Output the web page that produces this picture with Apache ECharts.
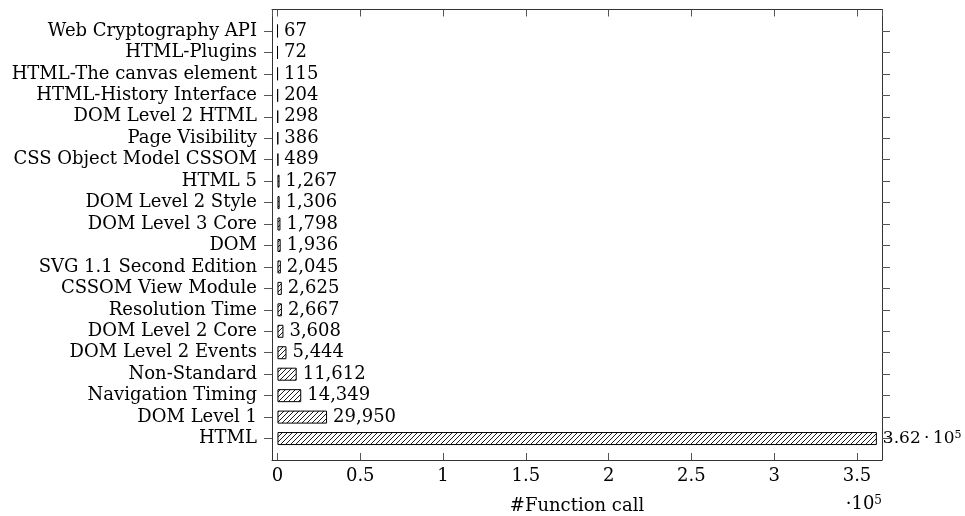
<!DOCTYPE html>
<html>
<head>
<meta charset="utf-8">
<script src="https://cdn.jsdelivr.net/npm/echarts@6/dist/echarts.min.js"></script>
<style>
html,body{margin:0;padding:0;background:#fff;}
#c{width:965px;height:516px;}
</style>
</head>
<body>
<div id="c"></div>
<script>
const categories = [
  'Web Cryptography API', 'HTML-Plugins', 'HTML-The canvas element', 'HTML-History Interface',
  'DOM Level 2 HTML', 'Page Visibility', 'CSS Object Model CSSOM', 'HTML 5',
  'DOM Level 2 Style', 'DOM Level 3 Core', 'DOM', 'SVG 1.1 Second Edition',
  'CSSOM View Module', 'Resolution Time', 'DOM Level 2 Core', 'DOM Level 2 Events',
  'Non-Standard', 'Navigation Timing', 'DOM Level 1', 'HTML'
];
const functionCalls = [
  67, 72, 115, 204, 298, 386, 489, 1267, 1306, 1798, 1936, 2045,
  2625, 2667, 3608, 5444, 11612, 14349, 29950, 362000
];
const xTickStep = 50000;
const xMin = -3300;
const xMax = 365100;

const FONT = 'DejaVu Serif';
const FS = 18;

// hatch pattern (north east lines)
const pc = document.createElement('canvas');
pc.width = 5; pc.height = 5;
const g = pc.getContext('2d');
g.fillStyle = '#fff'; g.fillRect(0, 0, 5, 5);
g.strokeStyle = '#000'; g.lineWidth = 0.9;
g.beginPath();
g.moveTo(0, 5); g.lineTo(5, 0);
g.moveTo(-1, 1); g.lineTo(1, -1);
g.moveTo(4, 6); g.lineTo(6, 4);
g.stroke();

const axisCats = [''].concat(categories, ['']);
const seriesData = [null].concat(functionCalls, [null]);

const chart = echarts.init(document.getElementById('c'), null, {renderer: 'canvas'});
const frameLine = {show: true, onZero: false, lineStyle: {color: '#333', width: 1}};
const tickStyle = {color: '#555', width: 1};

chart.setOption({
  animation: false,
  backgroundColor: '#fff',
  textStyle: {fontFamily: FONT},
  grid: {left: 272, right: 83, top: 9.5, bottom: 56, containLabel: false, outerBoundsMode: 'none'},
  xAxis: [{
    type: 'value', position: 'bottom', min: xMin, max: xMax,
    minInterval: xTickStep, maxInterval: xTickStep,
    axisLine: frameLine,
    axisTick: {show: true, inside: true, length: 7, lineStyle: tickStyle},
    splitLine: {show: false},
    axisLabel: {
      show: true, margin: 7, color: '#000', fontFamily: FONT, fontSize: FS,
      showMinLabel: false, showMaxLabel: false,
      formatter: v => (v < 0 || v > 360000) ? '' : String(v / 1e5)
    },
    name: '#Function call', nameLocation: 'middle', nameGap: 37,
    nameTextStyle: {color: '#000', fontFamily: FONT, fontSize: FS}
  }, {
    type: 'value', position: 'top', min: xMin, max: xMax,
    minInterval: xTickStep, maxInterval: xTickStep,
    axisLine: frameLine,
    axisTick: {show: true, inside: true, length: 7, lineStyle: tickStyle},
    splitLine: {show: false},
    axisLabel: {show: false}
  }],
  yAxis: [{
    type: 'category', position: 'left', inverse: true, data: axisCats, boundaryGap: false,
    axisLine: frameLine,
    axisTick: {show: true, inside: false, length: 8, lineStyle: tickStyle,
      interval: (i, v) => v !== ''},
    splitLine: {show: false},
    axisLabel: {show: true, interval: 0, margin: 15, color: '#000', fontFamily: FONT, fontSize: FS}
  }, {
    type: 'category', position: 'right', inverse: true, data: axisCats, boundaryGap: false,
    axisLine: frameLine,
    axisTick: {show: true, inside: false, length: 8, lineStyle: tickStyle,
      interval: (i, v) => v !== ''},
    splitLine: {show: false},
    axisLabel: {show: false}
  }],
  graphic: [{
    type: 'text', right: 83, top: 495,
    style: {
      text: '{n|·10}{s|5}',
      rich: {
        n: {fontFamily: FONT, fontSize: FS, fill: '#000', verticalAlign: 'bottom'},
        s: {fontFamily: FONT, fontSize: 12, fill: '#000', verticalAlign: 'top'}
      }
    }
  }],
  series: [{
    type: 'bar', xAxisIndex: 0, yAxisIndex: 0,
    data: seriesData, barWidth: 13,
    itemStyle: {color: {image: pc, repeat: 'repeat'}, borderColor: '#000', borderWidth: 1},
    label: {
      show: true, position: 'right', distance: 6, color: '#000',
      fontFamily: FONT, fontSize: FS,
      formatter: p => {
        if (p.value == null) return '';
        if (p.value >= 1e5) return '{n|' + (p.value / 1e5).toFixed(2) + '\u2009·\u200910}{s|5}';
        return p.value.toLocaleString('en-US');
      },
      rich: {
        n: {fontFamily: FONT, fontSize: 17, color: '#000', verticalAlign: 'bottom'},
        s: {fontFamily: FONT, fontSize: 11, color: '#000', verticalAlign: 'top'}
      }
    }
  }]
});
</script>
</body>
</html>
